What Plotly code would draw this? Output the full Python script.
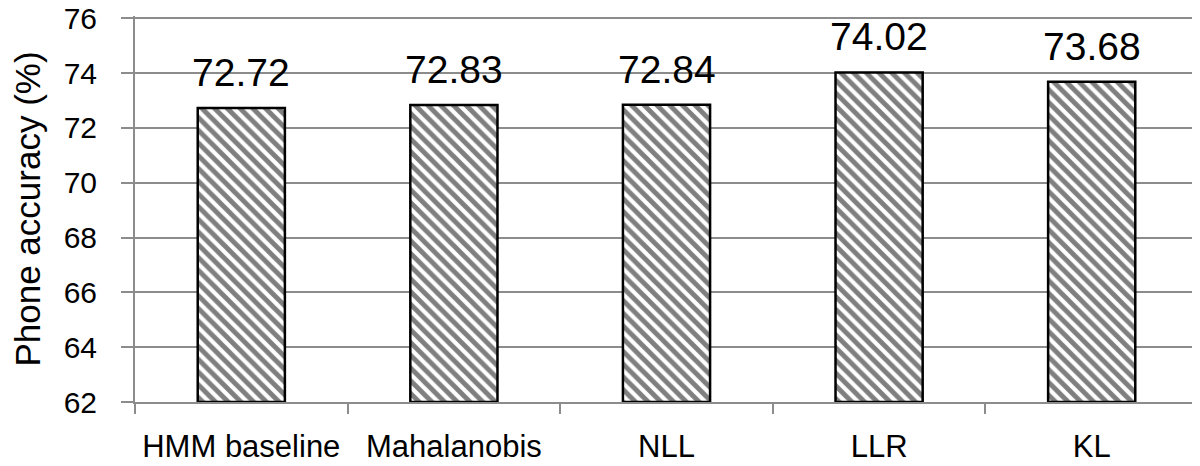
import plotly.graph_objects as go

methods = ["HMM baseline", "Mahalanobis", "NLL", "LLR", "KL"]
accuracy = [72.72, 72.83, 72.84, 74.02, 73.68]
y_ticks = [62, 64, 66, 68, 70, 72, 74, 76]
floor = 62

fig = go.Figure()
fig.add_trace(go.Bar(
    x=methods, y=[v - floor for v in accuracy], base=floor,
    width=0.41,
    marker=dict(color="white",
                line=dict(color="black", width=2.5),
                pattern=dict(shape="\\", fgcolor="black", bgcolor="white",
                             size=9, solidity=0.55)),
))

# value labels above the bars
for m, v in zip(methods, accuracy):
    fig.add_annotation(x=m, y=v, text=f"{v:.2f}", showarrow=False,
                       yanchor="bottom", yshift=12,
                       font=dict(size=39, color="black"))

# page body has an 8px margin, so the figure is a bit smaller than the window
fig.update_layout(
    width=1192, height=458,
    margin=dict(l=127, r=2, t=8, b=64),
    paper_bgcolor="white", plot_bgcolor="white",
    font=dict(family="Liberation Sans, Arial, sans-serif", color="black"),
    showlegend=False,
)
fig.update_xaxes(
    automargin=False,
    showline=True, linecolor="#8c8c8c", linewidth=2,
    ticks="outside", tickson="boundaries", ticklen=10, tickwidth=2,
    tickcolor="#8c8c8c",
    tickfont=dict(size=31, color="black"),
    ticklabelstandoff=16,
)
# range a little above 76 so plotly keeps the top grid line
fig.update_yaxes(
    automargin=False,
    range=[62, 76.08],
    tickvals=y_ticks,
    showline=True, linecolor="#8c8c8c", linewidth=2,
    showgrid=True, gridcolor="#8c8c8c", gridwidth=2,
    ticks="outside", ticklen=12, tickwidth=2, tickcolor="#8c8c8c",
    tickfont=dict(size=30, color="black"),
    ticklabelstandoff=18, ticklabeloverflow="allow",
    title=dict(text="Phone accuracy (%)", font=dict(size=35, color="black"), standoff=38),
    zeroline=False,
)

fig.write_html("out.html")
